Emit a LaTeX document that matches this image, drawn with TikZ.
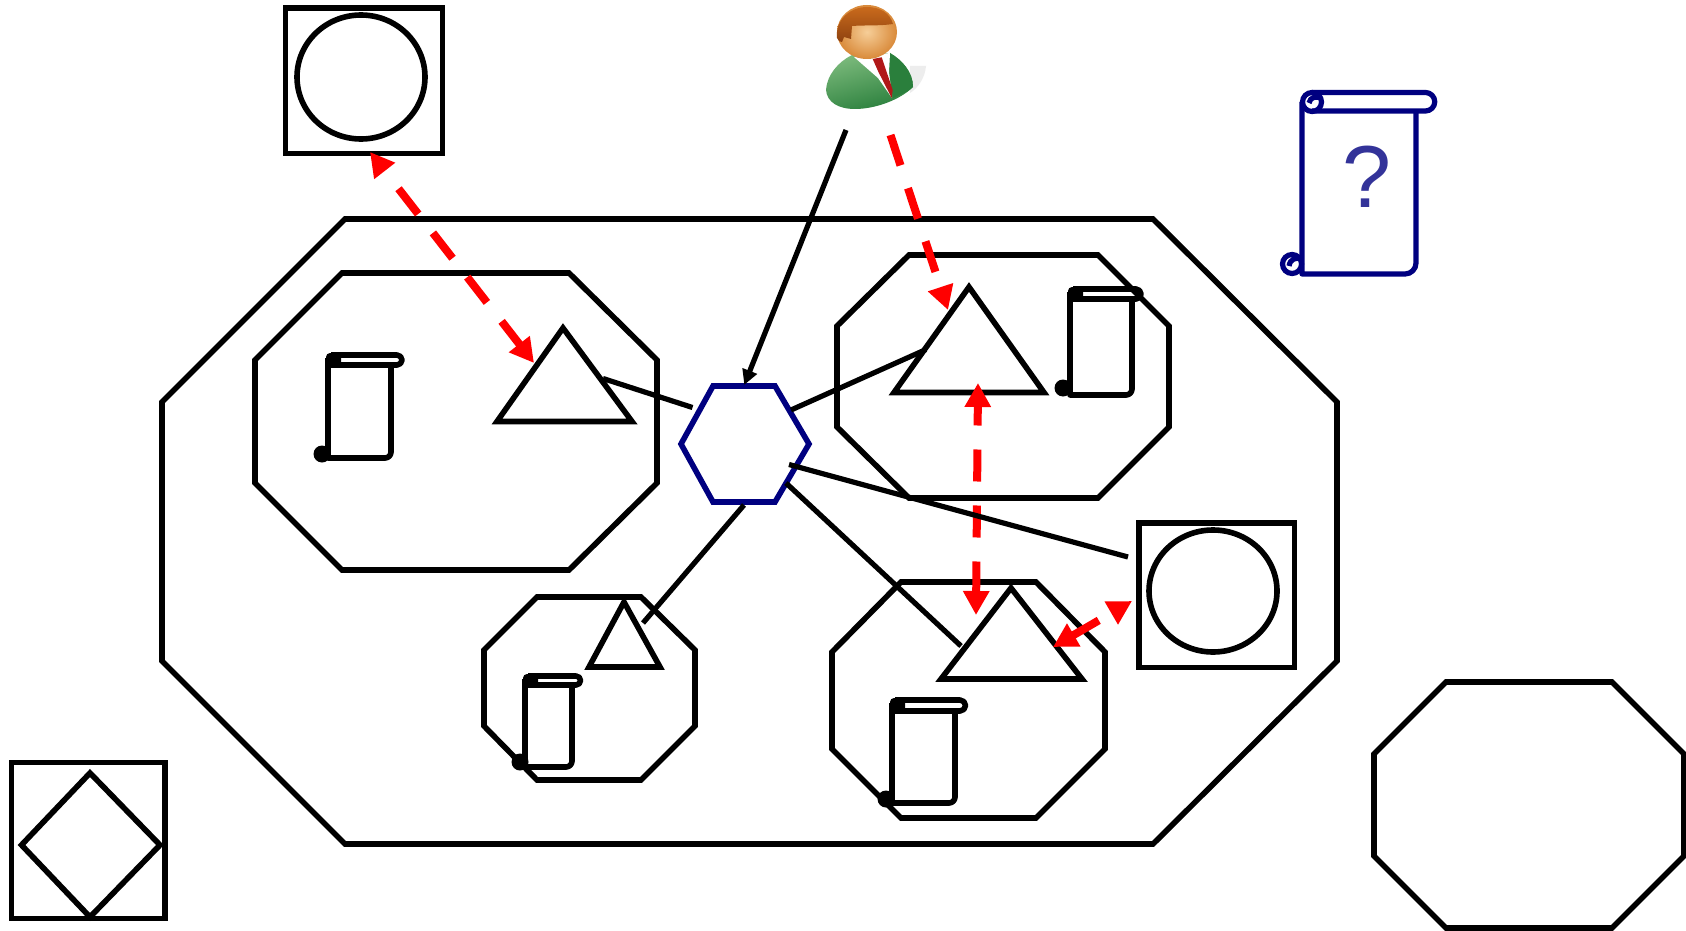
\documentclass[tikz,border=0pt]{standalone}
\usepackage{fontspec}
\setmainfont{Liberation Sans}
\usetikzlibrary{arrows.meta}
\definecolor{navyb}{HTML}{000080}
\definecolor{qm}{HTML}{333399}
\definecolor{skinin}{HTML}{F6CE98}
\definecolor{skinout}{HTML}{D98A3A}
\definecolor{hairtop}{HTML}{C96A1C}
\definecolor{hairlow}{HTML}{8E4210}
\definecolor{suitlight}{HTML}{7DBB7D}
\definecolor{suitdark}{HTML}{2A7F3C}
\definecolor{tiered}{HTML}{B01818}
\tikzset{
  shapeline/.style={draw=black,line width=2.8pt,line join=miter},
  boxline/.style={draw=black,line width=2.6pt,line join=miter},
  link/.style={draw=black,line width=2.6pt},
  linkarrow/.style={link,-{Triangle[length=7.5pt,width=7.5pt]},shorten >=-1pt},
  redbase/.style={draw=red,line width=4pt},
  reddash/.style={redbase,dash pattern=on 16pt off 12pt,
     {Triangle[length=12pt,width=12.5pt]}-{Triangle[length=12pt,width=12.5pt]}},
  reddashone/.style={redbase,dash pattern=on 16pt off 12pt,
     -{Triangle[length=12pt,width=12.5pt]}},
  hexline/.style={draw=navyb,line width=2.8pt,line join=miter},
  bluescroll/.style={draw=navyb,line width=2.6pt,line join=round},
}
% left, top, bar bottom, bar end, right, bottom, curl x, curl y
\newcommand{\blackscroll}[8]{%
  \fill[black] (#7,#8) circle (8.5);
  \fill[black,rounded corners=2pt] (#1-2,#2-2) rectangle (#1+13,#3+2);
  \draw[shapeline,line join=round] (#1+3,#2) -- (#4-5,#2) arc (-90:90:{(#3-#2)/2}) -- (#1+3,#3);
  \draw[shapeline,line join=round] (#1,#2+3) -- (#1,#6) -- (#5-6,#6) arc (90:0:6) -- (#5,#3);
}
\begin{document}
\begin{tikzpicture}[x=0.5pt,y=-0.5pt]
\useasboundingbox (0,0) rectangle (1686,931);
\fill[white] (0,0) rectangle (1686,931);

% large containers
\draw[shapeline] (345,219)--(1153,219)--(1337,402)--(1337,661)--(1153,844)--(345,844)--(162,661)--(162,402)--cycle;
\draw[shapeline] (342,273)--(569,273)--(657,360)--(657,483)--(569,570)--(342,570)--(255,483)--(255,360)--cycle;
\draw[shapeline] (909,255)--(1098,255)--(1169,326)--(1169,427)--(1098,498)--(909,498)--(837,427)--(837,326)--cycle;
\draw[shapeline] (537,597)--(641,597)--(695,650)--(695,726)--(641,780)--(537,780)--(484,726)--(484,650)--cycle;
\draw[shapeline] (901,582)--(1036,582)--(1105,652)--(1105,749)--(1036,818)--(901,818)--(832,749)--(832,652)--cycle;
\draw[shapeline] (1446,682)--(1612,682)--(1684,754)--(1684,856)--(1612,928)--(1446,928)--(1374,856)--(1374,754)--cycle;

% squares
\draw[boxline] (285.5,8) rectangle (442.5,153.5);
\draw[shapeline] (361,77) ellipse [x radius=64,y radius=62];
\draw[boxline] (1139,523) rectangle (1294.5,667.5);
\draw[shapeline] (1213,591) ellipse [x radius=64,y radius=61];
\draw[boxline] (11.5,762.5) rectangle (165,918.5);
\draw[shapeline] (90,773)--(160,845)--(90,917)--(21.5,845)--cycle;

% triangles
\draw[shapeline] (563,328)--(632,421.5)--(497,421.5)--cycle;
\draw[shapeline] (969,287)--(1044,392.5)--(894,392.5)--cycle;
\draw[shapeline] (624,602)--(660,667)--(589,667)--cycle;
\draw[shapeline] (1011,588)--(1082,679)--(941,679)--cycle;

% scrolls
\blackscroll{328}{355}{365}{402}{391}{458}{322}{454}
\blackscroll{1070}{289}{299}{1141}{1132}{395}{1063}{388}
\blackscroll{525}{676}{685}{581}{572}{767}{520}{762}
\blackscroll{892}{700}{711}{965}{955}{803}{886}{799}

% hexagon
\draw[hexline] (713,386)--(775,386)--(809,444)--(775,502)--(713,502)--(681,444)--cycle;

% blue scroll
\draw[bluescroll] (1312,92.5) -- (1425.5,92.5) arc (-90:90:9.25) -- (1312,111);
\draw[bluescroll] (1312,102) circle (9.5);
\draw[bluescroll] (1321,98) .. controls (1316,96) and (1310,97) .. (1309,103);
\draw[bluescroll] (1302,102) -- (1302,274) -- (1405,274) arc (90:0:11) -- (1416,111);
\draw[bluescroll] (1292,264) circle (9.5);
\draw[bluescroll] (1301,259) .. controls (1296,257) and (1290,259) .. (1289,266);
\node[text=qm,font=\fontsize{44}{44}\selectfont,inner sep=0pt] (qmark) at (1367,177) {?};

% red links
\coordinate (sq1) at (370,152); \coordinate (t1r) at (534,363);
\coordinate (u2) at (890.5,135); \coordinate (t2r) at (948,310);
\coordinate (t2b) at (978,383); \coordinate (t4t) at (976,615);
\coordinate (sq2r) at (1132,601); \coordinate (t4r) at (1053,647);
\draw[reddash,dash phase=16pt] (sq1) -- (t1r);
\draw[reddashone] (u2) -- (t2r);
\draw[reddash,dash phase=6pt] (t2b) -- (t4t);
\draw[redbase,dash pattern=on 0pt off 8pt on 16pt off 12pt,{Triangle[length=12pt,width=12.5pt]}-{Triangle[length=12pt,width=12.5pt]}] (sq2r) -- (t4r);

% person
\fill[black!7] (910,66) -- (926,66) .. controls (925,78) and (918,88) .. (910,93) -- cycle;
\shade[top color=suitlight,bottom color=suitdark,shading angle=15] (826,90) .. controls (827,75) and (838,62) .. (852,55) -- (890,53) .. controls (902,60) and (913,72) .. (913,87) .. controls (900,100) and (875,109) .. (855,109) .. controls (838,109) and (827,102) .. (826,90) -- cycle;
\fill[suitdark] (890,53) .. controls (902,60) and (913,72) .. (913,87) .. controls (908,92) and (900,95) .. (893,98) -- (889,72) -- cycle;
\fill[white] (854,57) -- (890,53) -- (889,72) -- (892,98) -- (878,78) -- cycle;
\fill[tiered] (872.7,59) -- (881.7,57.3) -- (892.7,90) -- (891.7,98) -- (878.3,71.7) -- cycle;
\shade[inner color=skinin,outer color=skinout] (867,32) ellipse [x radius=30,y radius=27];
\shade[top color=hairtop,bottom color=hairlow] (837,38) .. controls (835,20) and (850,7) .. (867,7) .. controls (880,7) and (890,13) .. (893,24) .. controls (880,26) and (865,25) .. (852,26) -- (851,39) -- (844,37) -- (842,42) .. controls (840,42) and (838,41) .. (837,38) -- cycle;

% black connectors
\coordinate (u1) at (846,130); \coordinate (hexT) at (745,383);
\coordinate (t1) at (603,378.5); \coordinate (hexL) at (692.5,407.5);
\coordinate (hexR1) at (791,410); \coordinate (t2) at (926,349.5);
\coordinate (hexR2) at (789,464.5); \coordinate (sq2) at (1128,557);
\coordinate (hexR3) at (786,483); \coordinate (t4) at (961,646);
\coordinate (hexB) at (744,505); \coordinate (t3) at (643,623);
\draw[linkarrow] (u1) -- (hexT);
\draw[link] (t1) -- (hexL);
\draw[link] (hexR1) -- (t2);
\draw[link] (hexR2) -- (sq2);
\draw[link] (hexR3) -- (t4);
\draw[link] (hexB) -- (t3);
\end{tikzpicture}
\end{document}
